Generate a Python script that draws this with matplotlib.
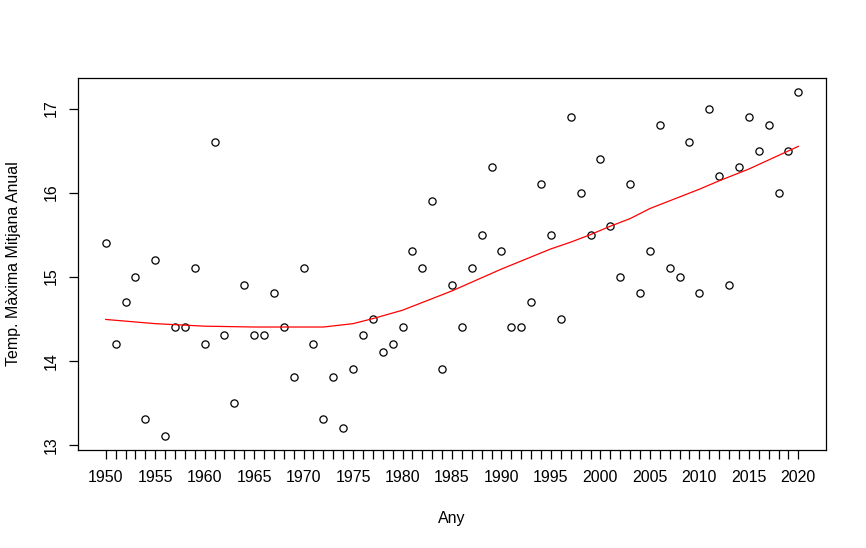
import matplotlib
matplotlib.use("Agg")
import matplotlib.pyplot as plt

anys = list(range(1950, 2021))
temp = [15.4, 14.2, 14.7, 15.0, 13.3, 15.2, 13.1, 14.4, 14.4, 15.1,
        14.2, 16.6, 14.3, 13.5, 14.9, 14.3, 14.3, 14.8, 14.4, 13.8,
        15.1, 14.2, 13.3, 13.8, 13.2, 13.9, 14.3, 14.5, 14.1, 14.2,
        14.4, 15.3, 15.1, 15.9, 13.9, 14.9, 14.4, 15.1, 15.5, 16.3,
        15.3, 14.4, 14.4, 14.7, 16.1, 15.5, 14.5, 16.9, 16.0, 15.5,
        16.4, 15.6, 15.0, 16.1, 14.8, 15.3, 16.8, 15.1, 15.0, 16.6,
        14.8, 17.0, 16.2, 14.9, 16.3, 16.9, 16.5, 16.8, 16.0, 16.5,
        17.2]

# corba suavitzada (llegida del grafic)
suau_x = [1950, 1955, 1960, 1965, 1972, 1975, 1977, 1980, 1985, 1990,
          1995, 1997, 1999, 2001, 2003, 2005, 2010, 2012, 2015, 2020]
suau_y = [14.49, 14.44, 14.41, 14.40, 14.40, 14.44, 14.50, 14.60, 14.83, 15.09,
          15.33, 15.41, 15.50, 15.60, 15.69, 15.81, 16.04, 16.14, 16.28, 16.55]

plt.rcParams['font.family'] = ['Liberation Sans', 'DejaVu Sans']

fig = plt.figure(figsize=(8.66, 5.48), dpi=100)
ax = fig.add_axes([0.0901, 0.1788, 0.8637, 0.6789])

ax.plot(anys, temp, linestyle='none', marker='o', markersize=5.2,
        markerfacecolor='none', markeredgecolor='black', markeredgewidth=0.9)
ax.plot(suau_x, suau_y, color='red', linewidth=0.9)

ax.set_xlim(1947.2, 2022.8)
ax.set_ylim(12.936, 17.364)

ax.set_xticks(anys)
ax.set_xticklabels([str(a) if a % 5 == 0 else '' for a in anys])
ax.set_yticks([13, 14, 15, 16, 17])
ax.set_yticklabels(['13', '14', '15', '16', '17'], rotation=90, va='center')

for s in ax.spines.values():
    s.set_linewidth(0.9)
ax.tick_params(axis='both', length=6.5, width=0.9, labelsize=11.5, colors='black')
ax.tick_params(axis='x', pad=8)
ax.tick_params(axis='y', pad=7.5)

ax.set_xlabel("Any", fontsize=11.5, labelpad=18.5)
ax.set_ylabel("Temp. Màxima Mitjana Anual", fontsize=11.5, labelpad=16)

fig.savefig("out.png", dpi=100)
